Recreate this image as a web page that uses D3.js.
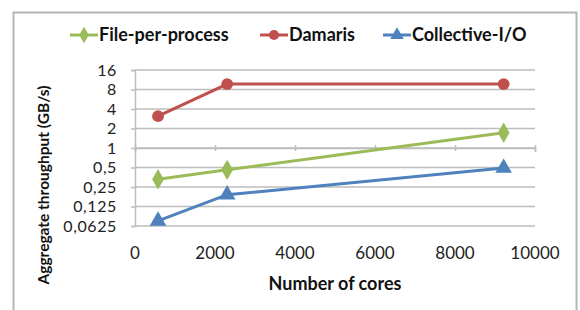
<!DOCTYPE html>
<html>
<head>
<meta charset="utf-8">
<script src="https://cdn.jsdelivr.net/npm/d3@7"></script>
<style>
  body { margin: 0; background: #fff; }
  svg { font-family: Lato, "Open Sans", sans-serif; }
</style>
</head>
<body>
<div id="chart"></div>
<script>
// data
var cores = [576, 2304, 9216];
var filePerProcess = [0.33, 0.46, 1.72];
var damaris = [3.1, 9.7, 9.7];
var collectiveIO = [0.075, 0.19, 0.49];
var yTicks = [0.0625, 0.125, 0.25, 0.5, 1, 2, 4, 8, 16];
var yTickLabels = ["0,0625", "0,125", "0,25", "0,5", "1", "2", "4", "8", "16"];
var xTicks = [0, 2000, 4000, 6000, 8000, 10000];

var series = [
    {name: "File-per-process", values: filePerProcess, color: "#9bbb59", shape: d3.symbolDiamond},
    {name: "Damaris", values: damaris, color: "#c0504d", shape: d3.symbolCircle},
    {name: "Collective-I/O", values: collectiveIO, color: "#4f81bd", shape: d3.symbolTriangle}
];

var width = 580, height = 310;
var svg = d3.select("#chart").append("svg")
    .attr("width", width)
    .attr("height", height);

// outer frame
svg.append("rect")
    .attr("x", 13.5).attr("y", 12.5)
    .attr("width", 563).attr("height", 305)
    .attr("fill", "none")
    .attr("stroke", "#b5b5b5")
    .attr("stroke-width", 2);

var x = d3.scaleLinear().domain([0, 10000]).range([135, 535]);
var y = d3.scaleLog().base(2).domain([0.0625, 16]).range([226, 70]);

// gridlines
svg.append("g").selectAll("line")
    .data(yTicks)
    .enter().append("line")
    .attr("x1", x(0)).attr("x2", x(10000))
    .attr("y1", function(d) { return y(d); })
    .attr("y2", function(d) { return y(d); })
    .attr("stroke", "#bdbdbd")
    .attr("stroke-width", 1.5);

// y axis
var yAxis = svg.append("g")
    .attr("transform", "translate(" + x(0) + ",0)")
    .call(d3.axisLeft(y).tickValues(yTicks)
        .tickFormat(function(d, i) { return yTickLabels[i]; })
        .tickSize(4).tickPadding(14));
yAxis.select(".domain").attr("stroke", "#bdbdbd").attr("stroke-width", 1.5);
yAxis.selectAll(".tick line").attr("stroke", "#bdbdbd").attr("stroke-width", 1.5);
yAxis.selectAll("text")
    .attr("font-family", "Lato, sans-serif")
    .attr("font-size", 16)
    .attr("letter-spacing", 0.6)
    .attr("fill", "#222");

// x axis crosses at 1, labels sit at the bottom
var xAxis = svg.append("g")
    .attr("transform", "translate(0," + y(1) + ")")
    .call(d3.axisBottom(x).tickValues(xTicks).tickSize(4).tickFormat(""));
xAxis.select(".domain").attr("stroke", "#bdbdbd").attr("stroke-width", 1.5);
xAxis.selectAll(".tick line").attr("stroke", "#bdbdbd").attr("stroke-width", 1.5)
    .attr("y1", -3).attr("y2", 3);

svg.append("g").selectAll("text")
    .data(xTicks)
    .enter().append("text")
    .attr("x", function(d) { return x(d); })
    .attr("y", 259)
    .attr("text-anchor", "middle")
    .attr("font-size", 17)
    .attr("fill", "#222")
    .text(function(d) { return d; });

// axis titles
svg.append("text")
    .attr("x", x(5000)).attr("y", 290)
    .attr("text-anchor", "middle")
    .attr("font-size", 18)
    .attr("font-weight", "bold")
    .attr("fill", "#111")
    .text("Number of cores");

svg.append("text")
    .attr("transform", "translate(49,185) rotate(-90)")
    .attr("text-anchor", "middle")
    .attr("font-size", 15.5)
    .attr("font-weight", "bold")
    .attr("fill", "#111")
    .text("Aggregate throughput (GB/s)");

// lines + markers
var line = d3.line()
    .x(function(d, i) { return x(cores[i]); })
    .y(function(d) { return y(d); });

series.forEach(function(s) {
    var g = svg.append("g");
    g.append("path")
        .attr("d", line(s.values))
        .attr("fill", "none")
        .attr("stroke", s.color)
        .attr("stroke-width", 3);
    g.selectAll("path.m")
        .data(s.values)
        .enter().append("path")
        .attr("class", "m")
        .attr("transform", function(d, i) { return "translate(" + x(cores[i]) + "," + y(d) + ")"; })
        .attr("d", d3.symbol().type(s.shape).size(s.shape === d3.symbolCircle ? 110 : 120))
        .attr("fill", s.color);
});

// legend
var legendX = [70, 260, 383];
var legend = svg.append("g");
series.forEach(function(s, i) {
    var lg = legend.append("g").attr("transform", "translate(" + legendX[i] + ",35)");
    lg.append("line")
        .attr("x1", 0).attr("x2", 28)
        .attr("stroke", s.color).attr("stroke-width", 3);
    lg.append("path")
        .attr("transform", "translate(14,0)")
        .attr("d", d3.symbol().type(s.shape).size(80))
        .attr("fill", s.color);
    lg.append("text")
        .attr("x", 29).attr("y", 6)
        .attr("font-size", 18)
        .attr("font-weight", "bold")
        .attr("fill", "#111")
        .text(s.name);
});
</script>
</body>
</html>
